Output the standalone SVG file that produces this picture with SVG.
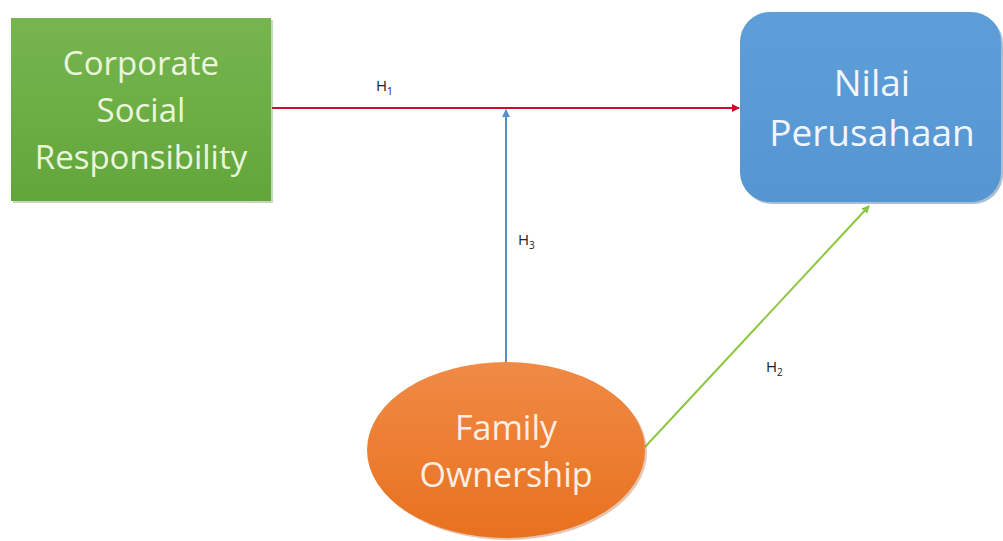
<svg xmlns="http://www.w3.org/2000/svg" width="1003" height="541" viewBox="0 0 1003 541">
<defs>
<linearGradient id="gGreen" x1="0" y1="0" x2="0" y2="1"><stop offset="0" stop-color="#77b54f"/><stop offset="1" stop-color="#62a63a"/></linearGradient>
<linearGradient id="gBlue" x1="0" y1="0" x2="0" y2="1"><stop offset="0" stop-color="#5e9ed8"/><stop offset="1" stop-color="#5596d2"/></linearGradient>
<linearGradient id="gOrange" x1="0" y1="0" x2="0" y2="1"><stop offset="0" stop-color="#f08a45"/><stop offset="1" stop-color="#e8711f"/></linearGradient>
<marker id="aRed" markerWidth="8" markerHeight="8" refX="7" refY="4" orient="auto" markerUnits="userSpaceOnUse"><path d="M0,0 L8,4 L0,8 Z" fill="#c8102e"/></marker>
<marker id="aBlue" markerWidth="8" markerHeight="8" refX="7" refY="4" orient="auto" markerUnits="userSpaceOnUse"><path d="M0,0 L8,4 L0,8 Z" fill="#5b8fc9"/></marker>
<marker id="aGreen" markerWidth="8" markerHeight="8" refX="7" refY="4" orient="auto" markerUnits="userSpaceOnUse"><path d="M0,0 L8,4 L0,8 Z" fill="#8cc63f"/></marker>
</defs>
<style>
.node text{font-family:"Open Sans","Liberation Sans",sans-serif;text-anchor:middle}
.lbl{font-family:"Open Sans","Liberation Sans",sans-serif;font-size:15px;fill:#222}
.sub{font-size:10px}
</style>
<rect width="1003" height="541" fill="#ffffff"/>
<g id="connectors" fill="none">
<line x1="272" y1="108" x2="739" y2="108" stroke="#c8102e" stroke-width="2" marker-end="url(#aRed)"/>
<line x1="506" y1="362" x2="506" y2="110" stroke="#5b8fc9" stroke-width="2" marker-end="url(#aBlue)"/>
<line x1="645" y1="447" x2="869" y2="206" stroke="#8cc63f" stroke-width="2" marker-end="url(#aGreen)"/>
<text class="lbl" x="376" y="91">H<tspan class="sub" dy="4">1</tspan></text>
<text class="lbl" x="518" y="245">H<tspan class="sub" dy="4">3</tspan></text>
<text class="lbl" x="766" y="372">H<tspan class="sub" dy="4">2</tspan></text>
</g>
<g id="csr" class="node" font-size="33">
<rect x="13" y="20" width="260" height="183" fill="#5a8f3a" opacity="0.35"/>
<rect x="11" y="18" width="260" height="183" fill="url(#gGreen)"/>
<text x="141" y="75" fill="#eaf6dc">Corporate</text>
<text x="141" y="122" fill="#eaf6dc">Social</text>
<text x="141" y="169" fill="#eaf6dc">Responsibility</text>
</g>
<g id="nilai" class="node" font-size="37">
<rect x="742" y="14" width="261" height="190" rx="30" fill="#3f6f9c" opacity="0.45"/>
<rect x="740" y="12" width="261" height="190" rx="30" fill="url(#gBlue)"/>
<text x="872" y="96" fill="#f2f6fb">Nilai</text>
<text x="872" y="146" fill="#f2f6fb">Perusahaan</text>
</g>
<g id="family" class="node" font-size="34">
<ellipse cx="508" cy="452" rx="139" ry="88" fill="#b3591c" opacity="0.35"/>
<ellipse cx="506" cy="450" rx="139" ry="88" fill="url(#gOrange)"/>
<text x="506" y="440" fill="#fbeee4">Family</text>
<text x="506" y="487" fill="#fbeee4">Ownership</text>
</g>
</svg>
